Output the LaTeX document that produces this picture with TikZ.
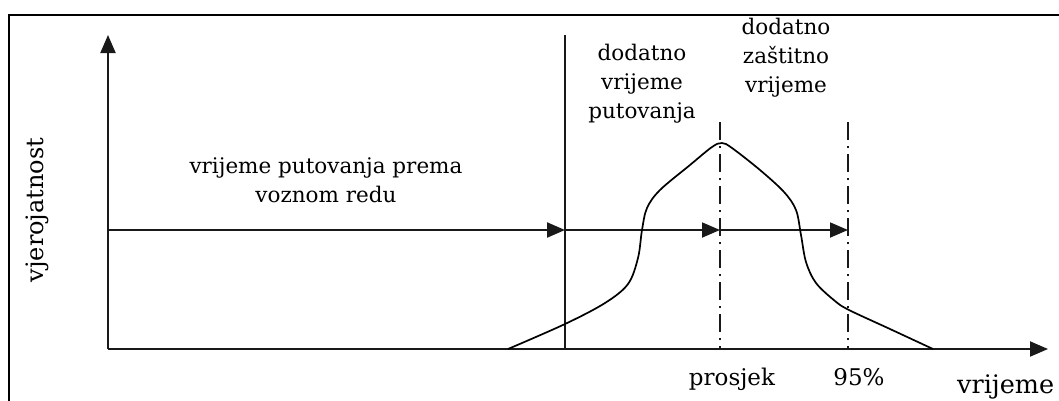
\documentclass[tikz,border=0pt]{standalone}
\usepackage{fontspec}
\setmainfont{DejaVu Serif}
\usetikzlibrary{arrows.meta}
\tikzset{
  axis/.style={line width=2bp, draw=black!90},
  hline/.style={line width=1.8bp, draw=black!90},
  curve/.style={line width=1.7bp, draw=black},
  dashdot/.style={line width=2bp, draw=black!90, dash pattern=on 18bp off 6bp on 2bp off 6bp},
  arr/.style={-{Triangle[length=18bp,width=15bp]}},
  lbl/.style={text=black, align=center, inner sep=0pt, font=\fontsize{21.5bp}{29bp}\selectfont},
  blbl/.style={text=black, inner sep=0pt, font=\fontsize{23bp}{29bp}\selectfont},
}
\begin{document}
\begin{tikzpicture}[x=1bp,y=-1bp]
\useasboundingbox (0,0) rectangle (1059,400);
\fill[white] (0,0) rectangle (1059,400);
\begin{scope}
\clip (0,0) rectangle (1059,400);
\draw[line width=1.6bp] (1080,15) -- (9,15) -- (9,420);
\end{scope}
% coordinates
\coordinate (O) at (108,349);
\coordinate (Ytop) at (108,35);
\coordinate (Xend) at (1048,349);
\coordinate (H0) at (108,230);
\coordinate (H1) at (495,230);
\coordinate (Hs) at (565,230);
\coordinate (Hm) at (720,230);
\coordinate (H95) at (848,230);
\coordinate (Vtop) at (565,35);
\coordinate (Vbot) at (565,349);
\coordinate (Mtop) at (720,122);
\coordinate (Mbot) at (720,349);
\coordinate (Ptop) at (848,122);
\coordinate (Pbot) at (848,349);
% axes
\draw[axis,arr] (O) -- (Ytop);
\draw[axis,arr] (O) -- (Xend);
% vertical lines
\draw[axis] (Vbot) -- (Vtop);
\draw[dashdot] (Mtop) -- (Mbot);
\draw[dashdot] (Ptop) -- (Pbot);
% horizontal arrows
\draw[hline] (H0) -- (H1);
\draw[hline,line width=2.2bp,arr] (H1) -- (Hs);
\draw[hline,arr] (Hs) -- (Hm);
\draw[hline,arr] (Hm) -- (H95);
% distribution curve
\draw[curve] plot[smooth, tension=0.55] coordinates {
 (508,349) (565,324) (605,303) (628,284) (638,258) (642,230) (647,208)
 (660,190) (690,165) (712,147) (722,143) (732,148) (760,170) (784,192)
 (796,210) (801,235) (806,262) (816,283) (835,301) (849,310) (890,329) (933,349)};
% labels (anchor base = baseline of last line)
\node[lbl, anchor=base] (t1) at (326,202) {vrijeme putovanja prema\\voznom redu};
\node[lbl, anchor=base] (t2) at (642,118) {dodatno\\vrijeme\\putovanja};
\node[lbl, anchor=base] (t3) at (786,92) {dodatno\\zaštitno\\vrijeme};
\node[blbl, anchor=base] (pr) at (732,385) {prosjek};
\node[blbl, anchor=base] (p95) at (859,385) {95\%};
\node[blbl, font=\fontsize{25.5bp}{29bp}\selectfont, anchor=base west] (xl) at (957,393) {vrijeme};
\node[blbl, font=\fontsize{24bp}{29bp}\selectfont, rotate=90] (yl) at (37,210) {vjerojatnost};
\end{tikzpicture}
\end{document}
